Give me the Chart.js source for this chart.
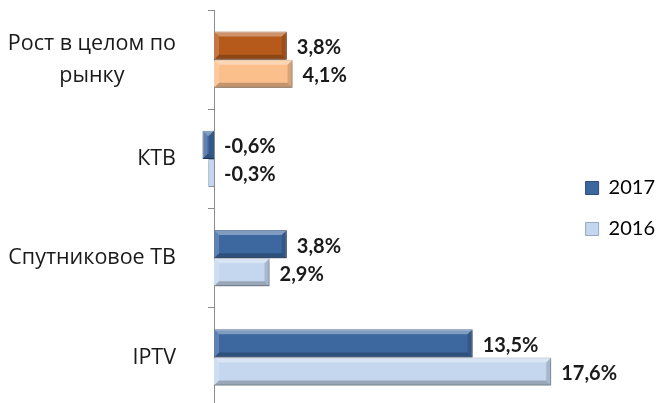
<!DOCTYPE html>
<html>
<head>
<meta charset="utf-8">
<script src="https://cdn.jsdelivr.net/npm/chart.js@4/dist/chart.umd.min.js"></script>
<style>
  html, body { margin: 0; padding: 0; background: #fff; overflow: hidden; }
  #wrap { position: relative; width: 665px; height: 412px; }
</style>
</head>
<body>
<div id="wrap"><canvas id="chart"></canvas></div>
<script>
// data
const categories = [['Рост в целом по', 'рынку'], ['КТВ'], ['Спутниковое ТВ'], ['IPTV']];
const seriesNames = ['2017', '2016'];
const values2017 = [3.8, -0.6, 3.8, 13.5];
const values2016 = [4.1, -0.3, 2.9, 17.6];

const FONT = 'Lato, "Open Sans", sans-serif';
const CAT_FONT = '"Open Sans", Lato, sans-serif';
const dark = '#3C679F', light = '#C4D7EE';
const darkOrange = '#B65A1C', lightOrange = '#FBBF8C';

function fmt(v) {
    return v.toFixed(1).replace('.', ',') + '%';
}

// bevel look on each bar
function bevel(ctx, l, t, r, b) {
    const d = 5;
    ctx.save();
    ctx.fillStyle = 'rgba(255,255,255,0.35)';
    ctx.beginPath();
    ctx.moveTo(l, t); ctx.lineTo(r, t); ctx.lineTo(r - d, t + d); ctx.lineTo(l + d, t + d);
    ctx.closePath(); ctx.fill();
    ctx.fillStyle = 'rgba(255,255,255,0.18)';
    ctx.beginPath();
    ctx.moveTo(l, t); ctx.lineTo(l + d, t + d); ctx.lineTo(l + d, b - d); ctx.lineTo(l, b);
    ctx.closePath(); ctx.fill();
    ctx.fillStyle = 'rgba(0,0,0,0.22)';
    ctx.beginPath();
    ctx.moveTo(l, b); ctx.lineTo(r, b); ctx.lineTo(r - d, b - d); ctx.lineTo(l + d, b - d);
    ctx.closePath(); ctx.fill();
    ctx.fillStyle = 'rgba(0,0,0,0.14)';
    ctx.beginPath();
    ctx.moveTo(r, t); ctx.lineTo(r, b); ctx.lineTo(r - d, b - d); ctx.lineTo(r - d, t + d);
    ctx.closePath(); ctx.fill();
    ctx.restore();
}

const barDecor = {
    id: 'barDecor',
    beforeDatasetsDraw(chart) {
        // soft drop shadow under the bars
        const ctx = chart.ctx;
        ctx.save();
        ctx.shadowColor = 'rgba(0,0,0,0.28)';
        ctx.shadowBlur = 4;
        ctx.shadowOffsetX = 1;
        ctx.shadowOffsetY = 2;
    },
    afterDatasetsDraw(chart) {
        const ctx = chart.ctx;
        ctx.restore();
        chart.data.datasets.forEach((ds, di) => {
            chart.getDatasetMeta(di).data.forEach((bar, i) => {
                const h = bar.height / 2;
                const l = Math.min(bar.x, bar.base), r = Math.max(bar.x, bar.base);
                if (r - l > 10) bevel(ctx, l, bar.y - h, r, bar.y + h);
                // value label
                ctx.save();
                ctx.font = 'bold 20px ' + FONT;
                ctx.fillStyle = '#1a1a1a';
                ctx.textAlign = 'left';
                ctx.textBaseline = 'middle';
                ctx.fillText(fmt(ds.data[i]), Math.max(bar.x, bar.base) + 10, bar.y + 2);
                ctx.restore();
            });
        });
    }
};

// category labels: each block centred on itself, blocks right-aligned
const catLabels = {
    id: 'catLabels',
    afterDraw(chart) {
        const ctx = chart.ctx;
        const y = chart.scales.y;
        ctx.save();
        ctx.font = '21.5px ' + CAT_FONT;
        ctx.fillStyle = '#1a1a1a';
        ctx.textAlign = 'center';
        ctx.textBaseline = 'middle';
        const rightEdge = 176, lh = 32;
        categories.forEach((lines, i) => {
            const cy = y.getPixelForTick(i);
            const w = Math.max(...lines.map(s => ctx.measureText(s).width));
            const cx = rightEdge - w / 2;
            lines.forEach((s, k) => {
                ctx.fillText(s, cx, cy + (k - (lines.length - 1) / 2) * lh);
            });
        });
        ctx.restore();
    }
};

new Chart(document.getElementById('chart'), {
    type: 'bar',
    data: {
        labels: categories,
        datasets: [{
            label: seriesNames[0],
            data: values2017,
            backgroundColor: [darkOrange, dark, dark, dark],
            borderColor: ['#8E4312', '#2C4F7E', '#2C4F7E', '#2C4F7E'],
            borderWidth: 1,
            clip: false
        }, {
            label: seriesNames[1],
            data: values2016,
            backgroundColor: [lightOrange, light, light, light],
            borderColor: ['#D99A66', '#93A9C6', '#93A9C6', '#93A9C6'],
            borderWidth: 1,
            clip: false
        }]
    },
    options: {
        indexAxis: 'y',
        responsive: true,
        maintainAspectRatio: false,
        animation: false,
        categoryPercentage: 0.565,
        barPercentage: 1,
        layout: { padding: { left: 208, top: 10, bottom: 5, right: 0 } },
        scales: {
            x: {
                display: false,
                min: 0,
                max: 18.3
            },
            y: {
                grid: { drawOnChartArea: false, tickLength: 6, color: '#8c8c8c', offset: true },
                border: { color: '#8c8c8c', width: 1 },
                ticks: { display: false }
            }
        },
        plugins: {
            tooltip: { enabled: false },
            legend: {
                position: 'right',
                align: 'center',
                labels: {
                    font: { family: FONT, size: 20 },
                    color: '#1a1a1a',
                    boxWidth: 13,
                    boxHeight: 13,
                    padding: 21,
                    generateLabels(chart) {
                        return [
                            { text: seriesNames[0], fillStyle: dark, strokeStyle: '#2C4F7E', lineWidth: 1, datasetIndex: 0 },
                            { text: seriesNames[1], fillStyle: light, strokeStyle: '#93A9C6', lineWidth: 1, datasetIndex: 1 }
                        ];
                    }
                }
            }
        }
    },
    plugins: [barDecor, catLabels]
});
</script>
</body>
</html>
